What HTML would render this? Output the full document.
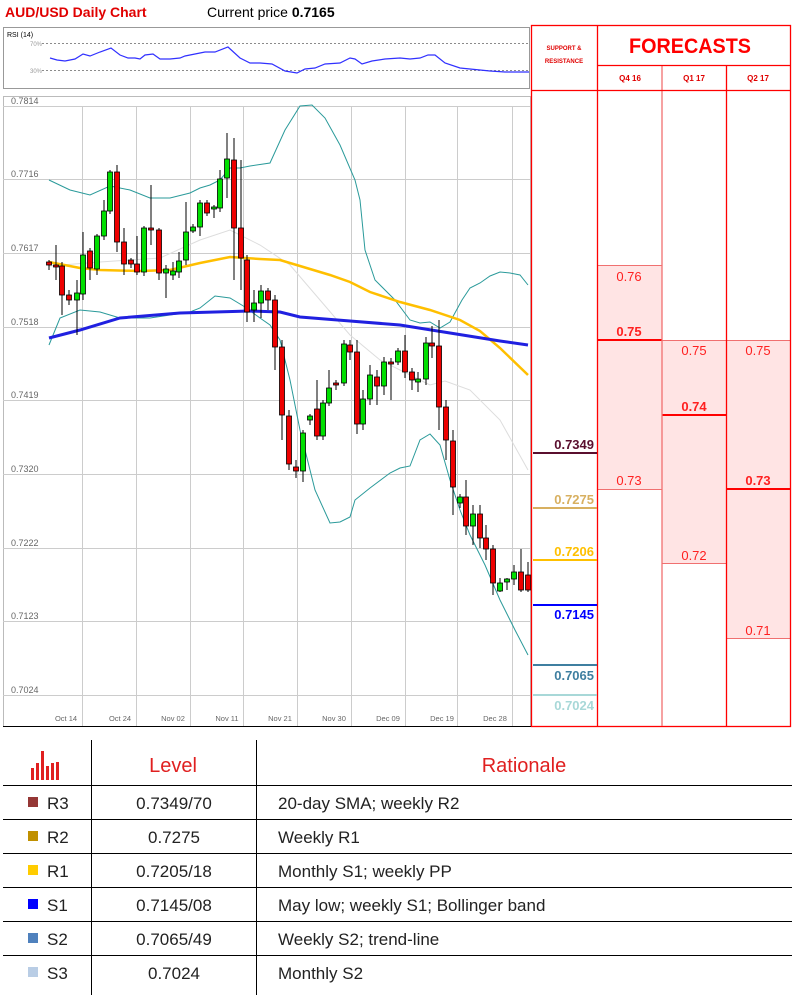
<!DOCTYPE html>
<html><head><meta charset="utf-8"><style>
body{margin:0;width:800px;height:995px;background:#fff;overflow:hidden;font-family:"Liberation Sans",sans-serif;}
svg{position:absolute;left:0;top:0}
</style></head><body>
<svg width="800" height="995" viewBox="0 0 800 995" xmlns="http://www.w3.org/2000/svg" font-family="Liberation Sans, sans-serif">
<text x="5" y="17" font-size="14" font-weight="bold" fill="#e00000">AUD/USD Daily Chart</text>
<text x="207" y="17" font-size="14" fill="#000">Current price <tspan font-weight="bold">0.7165</tspan></text>
<!-- RSI -->
<rect x="3.5" y="27.5" width="526" height="61" fill="#fff" stroke="#999"/>
<text x="7" y="37" font-size="7" fill="#000">RSI (14)</text>
<text x="30" y="46" font-size="6" fill="#999">70%</text>
<text x="30" y="73" font-size="6" fill="#999">30%</text>
<line x1="42" y1="43.5" x2="529" y2="43.5" stroke="#666" stroke-dasharray="2,2" stroke-width="0.8"/>
<line x1="42" y1="70.5" x2="529" y2="70.5" stroke="#666" stroke-dasharray="2,2" stroke-width="0.8"/>
<polyline fill="none" stroke="#3030ff" stroke-width="1.2" points="50,58 57,60 65,61 75,59 83,54 90,56 100,52 111,48 120,55 128,58 135,58 140,59 145,55 153,54 160,59 170,59 180,58 185,56 195,54 205,52 215,52 228,47 240,58 250,63 260,63 272,64 285,71 297,73 305,69 315,68 325,64 340,63 350,58 355,59 362,64 372,61 385,59 400,58 410,59 420,58 428,55 435,55 445,63 460,68 470,69 480,70 490,71 505,72 520,72 529,72"/>
<!-- main chart -->
<rect x="3.5" y="96.5" width="527" height="630" fill="#fff" stroke="#bbb"/>
<g stroke="#ccc" stroke-width="1">
<line x1="3" y1="106.5" x2="530" y2="106.5"/><line x1="3" y1="179.5" x2="530" y2="179.5"/><line x1="3" y1="253.5" x2="530" y2="253.5"/><line x1="3" y1="327.5" x2="530" y2="327.5"/><line x1="3" y1="400.5" x2="530" y2="400.5"/><line x1="3" y1="474.5" x2="530" y2="474.5"/><line x1="3" y1="548.5" x2="530" y2="548.5"/><line x1="3" y1="621.5" x2="530" y2="621.5"/><line x1="3" y1="695.5" x2="530" y2="695.5"/>
<line x1="82.5" y1="106" x2="82.5" y2="726"/><line x1="136.5" y1="106" x2="136.5" y2="726"/><line x1="190.5" y1="106" x2="190.5" y2="726"/><line x1="243.5" y1="106" x2="243.5" y2="726"/><line x1="297.5" y1="106" x2="297.5" y2="726"/><line x1="351.5" y1="106" x2="351.5" y2="726"/><line x1="405.5" y1="106" x2="405.5" y2="726"/><line x1="457.5" y1="106" x2="457.5" y2="726"/><line x1="512.5" y1="106" x2="512.5" y2="726"/>
</g>
<g font-size="9" fill="#666">
<text x="11" y="104">0.7814</text><text x="11" y="177">0.7716</text><text x="11" y="251">0.7617</text><text x="11" y="325">0.7518</text><text x="11" y="398">0.7419</text><text x="11" y="472">0.7320</text><text x="11" y="546">0.7222</text><text x="11" y="619">0.7123</text><text x="11" y="693">0.7024</text>
</g>
<g font-size="7.5" fill="#666" text-anchor="middle">
<text x="66" y="721">Oct 14</text><text x="120" y="721">Oct 24</text><text x="173" y="721">Nov 02</text><text x="227" y="721">Nov 11</text><text x="280" y="721">Nov 21</text><text x="334" y="721">Nov 30</text><text x="388" y="721">Dec 09</text><text x="442" y="721">Dec 19</text><text x="495" y="721">Dec 28</text>
</g>
<line x1="3" y1="726.5" x2="531" y2="726.5" stroke="#000"/>
<!-- indicators -->
<polyline fill="none" stroke="#ddd" stroke-width="1" points="49,266 100,262 160,258 200,240 230,230 260,245 290,265 320,300 350,335 380,360 410,375 430,385 445,381 470,390 500,420 528,470"/>
<polyline fill="none" stroke="#2a9a9a" stroke-width="1" points="49,180 70,190 90,195 110,186 130,190 150,198 170,198 190,193 200,188 210,185 220,180 230,168 240,168 250,166 270,163 285,130 300,106 312,105 325,118 340,145 355,180 360,200 365,250 375,280 395,300 410,320 420,323 430,322 440,328 450,322 462,300 470,288 480,283 490,276 500,272 510,273 520,275 528,285"/>
<polyline fill="none" stroke="#2a9a9a" stroke-width="1" points="49,345 60,318 80,310 100,312 120,318 150,318 170,315 190,312 200,308 215,296 230,298 245,307 260,318 270,325 280,340 290,380 300,430 315,490 330,523 340,522 350,517 355,500 370,488 390,473 400,468 410,466 420,440 430,434 440,445 450,480 460,510 470,535 485,565 500,600 515,630 528,655"/>
<polyline fill="none" stroke="#ffbf00" stroke-width="2.5" points="49,262 80,268 100,270 140,271 170,270 200,263 230,257 260,259 280,260 300,266 330,275 350,282 370,292 400,302 430,310 460,320 480,331 500,348 528,375"/>
<polyline fill="none" stroke="#2020e0" stroke-width="3" points="49,338 80,330 120,318 180,313 250,311 280,312 300,317 350,321 400,325 450,333 500,341 528,345"/>
<g id="candles"></g>
<!-- forecasts panel -->
<rect x="598" y="265" width="64" height="224" fill="#ffe4e4"/>
<rect x="662" y="340" width="65" height="223" fill="#ffe4e4"/>
<rect x="727" y="340" width="63" height="298" fill="#ffe4e4"/>
<g stroke="#f07070" stroke-width="1">
<line x1="598" y1="265.5" x2="662" y2="265.5"/><line x1="598" y1="489.5" x2="662" y2="489.5"/>
<line x1="662" y1="340.5" x2="727" y2="340.5"/><line x1="662" y1="563.5" x2="727" y2="563.5"/>
<line x1="727" y1="340.5" x2="790" y2="340.5"/><line x1="727" y1="638.5" x2="790" y2="638.5"/>
</g>
<g stroke="#ff0000" stroke-width="2">
<line x1="598" y1="340" x2="662" y2="340"/><line x1="662" y1="415" x2="727" y2="415"/><line x1="727" y1="489" x2="790" y2="489"/>
</g>
<g fill="none" stroke="#ff0000" stroke-width="1.3">
<rect x="531.5" y="25.5" width="259" height="701"/>
<line x1="597.5" y1="25" x2="597.5" y2="726"/><line x1="662" y1="65" x2="662" y2="726" stroke="#f07070"/><line x1="726.5" y1="65" x2="726.5" y2="726"/>
<line x1="597" y1="65.5" x2="791" y2="65.5"/><line x1="531" y1="90.5" x2="791" y2="90.5"/>
</g>
<text x="564" y="50" font-size="6" font-weight="bold" fill="#e00000" text-anchor="middle">SUPPORT &amp;</text>
<text x="564" y="63" font-size="6" font-weight="bold" fill="#e00000" text-anchor="middle">RESISTANCE</text>
<text x="690" y="53" font-size="21" font-weight="bold" fill="#ff0000" text-anchor="middle" textLength="122" lengthAdjust="spacingAndGlyphs">FORECASTS</text>
<g font-size="8" font-weight="bold" fill="#e00000" text-anchor="middle">
<text x="630" y="81">Q4 16</text><text x="694" y="81">Q1 17</text><text x="758" y="81">Q2 17</text>
</g>
<g font-size="13" fill="#ff2020" text-anchor="middle">
<text x="629" y="281">0.76</text><text x="629" y="336" font-weight="bold">0.75</text><text x="629" y="485">0.73</text>
<text x="694" y="355">0.75</text><text x="694" y="411" font-weight="bold">0.74</text><text x="694" y="560">0.72</text>
<text x="758" y="355">0.75</text><text x="758" y="485" font-weight="bold">0.73</text><text x="758" y="635">0.71</text>
</g>
<g stroke-width="2">
<line x1="533" y1="453" x2="597" y2="453" stroke="#5a0f2e"/>
<line x1="533" y1="508" x2="597" y2="508" stroke="#d8b060"/>
<line x1="533" y1="560" x2="597" y2="560" stroke="#ffc000"/>
<line x1="533" y1="605" x2="597" y2="605" stroke="#0000ff"/>
<line x1="533" y1="665" x2="597" y2="665" stroke="#3f7fa0"/>
<line x1="533" y1="695" x2="597" y2="695" stroke="#a8d8d8"/>
</g>
<g font-size="13" font-weight="bold" text-anchor="end">
<text x="594" y="449" fill="#5a0f2e">0.7349</text>
<text x="594" y="504" fill="#d8b060">0.7275</text>
<text x="594" y="556" fill="#ffc000">0.7206</text>
<text x="594" y="619" fill="#0000ff">0.7145</text>
<text x="594" y="680" fill="#3f7fa0">0.7065</text>
<text x="594" y="710" fill="#a8d8d8">0.7024</text>
</g>
<!-- table -->
<g fill="#e02020"><rect x="31" y="768" width="3" height="12"/><rect x="36" y="763" width="3" height="17"/><rect x="41" y="751" width="3" height="29"/><rect x="46" y="766" width="3" height="14"/><rect x="51" y="763" width="3" height="17"/><rect x="56" y="762" width="3" height="18"/></g>
<g stroke="#000" stroke-width="1">
<line x1="91.5" y1="740" x2="91.5" y2="995"/><line x1="256.5" y1="740" x2="256.5" y2="995"/>
<line x1="3" y1="785.5" x2="792" y2="785.5"/><line x1="3" y1="819.5" x2="792" y2="819.5"/><line x1="3" y1="853.5" x2="792" y2="853.5"/><line x1="3" y1="887.5" x2="792" y2="887.5"/><line x1="3" y1="921.5" x2="792" y2="921.5"/><line x1="3" y1="955.5" x2="792" y2="955.5"/>
</g>
<text x="173" y="772" font-size="20" fill="#e02020" text-anchor="middle">Level</text>
<text x="524" y="772" font-size="20" fill="#e02020" text-anchor="middle">Rationale</text>
<rect x="28" y="797" width="10" height="10" fill="#953735"/>
<rect x="28" y="831" width="10" height="10" fill="#c09000"/>
<rect x="28" y="865" width="10" height="10" fill="#ffcc00"/>
<rect x="28" y="899" width="10" height="10" fill="#0000ff"/>
<rect x="28" y="933" width="10" height="10" fill="#4f81bd"/>
<rect x="28" y="967" width="10" height="10" fill="#b9cde5"/>
<g font-size="17" fill="#222">
<text x="47" y="809">R3</text><text x="47" y="843">R2</text><text x="47" y="877">R1</text><text x="47" y="911">S1</text><text x="47" y="945">S2</text><text x="47" y="979">S3</text>
</g>
<g font-size="17" fill="#222" text-anchor="middle">
<text x="174" y="809">0.7349/70</text><text x="174" y="843">0.7275</text><text x="174" y="877">0.7205/18</text><text x="174" y="911">0.7145/08</text><text x="174" y="945">0.7065/49</text><text x="174" y="979">0.7024</text>
</g>
<g font-size="17" fill="#222">
<text x="278" y="809">20-day SMA; weekly R2</text><text x="278" y="843">Weekly R1</text><text x="278" y="877">Monthly S1; weekly PP</text><text x="278" y="911">May low; weekly S1; Bollinger band</text><text x="278" y="945">Weekly S2; trend-line</text><text x="278" y="979">Monthly S2</text>
</g>
</svg>
<script>
var c=[[49,262,265,260,270],[56,265,266,245,280],[62,266,295,262,315],[69,295,300,290,305],[77,300,293,280,335],[83,294,255,232,300],[90,251,268,248,280],[97,269,236,234,275],[104,236,211,200,240],[110,211,172,170,214],[117,172,242,165,252],[124,242,264,228,275],[131,260,264,258,268],[137,264,272,236,275],[144,272,228,226,276],[151,228,230,185,245],[159,230,273,228,280],[166,273,269,265,298],[173,275,271,262,280],[179,272,261,252,278],[186,260,232,202,265],[193,231,227,224,233],[200,227,203,200,236],[207,203,213,200,216],[214,208,207,205,218],[220,208,179,170,212],[227,178,159,133,198],[234,160,228,138,280],[241,228,258,160,290],[247,260,312,255,322],[254,310,303,290,322],[261,303,291,285,318],[268,291,300,288,310],[275,300,347,295,370],[282,347,415,340,440],[289,416,464,410,470],[296,467,471,460,478],[303,471,433,430,482],[310,420,416,414,425],[317,409,436,380,440],[323,436,403,400,440],[329,403,388,370,406],[336,383,383,380,390],[344,383,344,340,386],[350,345,352,340,360],[357,352,424,340,434],[363,424,399,390,430],[370,399,375,365,405],[377,377,386,370,405],[384,386,362,357,395],[391,362,362,358,400],[398,362,351,348,365],[405,351,372,335,378],[412,372,380,368,390],[418,382,379,372,392],[426,379,343,337,385],[432,343,346,326,358],[439,346,407,320,430],[446,407,440,400,460],[453,441,487,430,515],[460,503,497,494,508],[466,497,526,480,535],[473,526,514,505,545],[480,514,538,505,548],[486,538,549,525,560],[493,549,583,545,595],[500,591,583,578,592],[507,582,579,578,590],[514,579,572,565,585],[521,572,590,549,592],[528,575,590,562,592]];
var s='';c.forEach(function(d){var x=d[0],o=d[1],cl=d[2],t=Math.min(o,cl),b=Math.max(o,cl);if(b-t<2){b=t+2;}var col=cl<o?'#00e000':'#ee0000';s+='<line x1="'+x+'" y1="'+d[3]+'" x2="'+x+'" y2="'+d[4]+'" stroke="#000" stroke-width="1"/><rect x="'+(x-2.5)+'" y="'+t+'" width="5" height="'+(b-t)+'" fill="'+col+'" stroke="#000" stroke-width="0.8"/>';});
document.getElementById('candles').innerHTML=s;
</script>
</body></html>
